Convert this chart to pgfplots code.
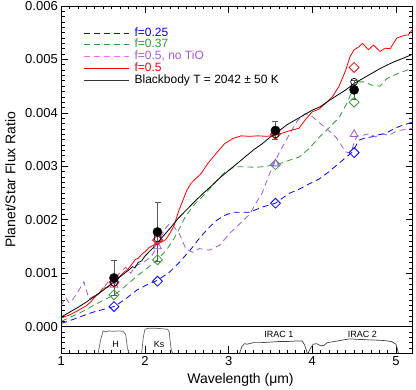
\documentclass[border=0pt]{standalone}
\usepackage{fontspec}
\setmainfont{Liberation Sans}
\usepackage{pgfplots}
\pgfplotsset{compat=1.18}
\definecolor{mygreen}{rgb}{0.2,0.6,0.2}
\definecolor{mypurple}{rgb}{0.62,0.35,0.85}
\definecolor{mymagenta}{rgb}{1,0.4,1}
\definecolor{errgray}{rgb}{0.35,0.35,0.35}

\begin{document}
\begin{tikzpicture}
\useasboundingbox (-61.3pt,-36.7pt) rectangle (354.7pt,353.3pt);
\begin{axis}[
    at={(0pt,0pt)}, anchor=south west,
    scale only axis, width=351.4pt, height=347.3pt,
    xmin=1, xmax=5.2, ymin=-0.0005, ymax=0.006,
    xtick={1,2,3,4,5}, minor x tick num=9,
    ytick={0,0.001,0.002,0.003,0.004,0.005,0.006},
    minor ytick={-0.0004,-0.0003,-0.0002,-0.0001,
      0.0001,0.0002,0.0003,0.0004,0.0005,0.0006,0.0007,0.0008,0.0009,
      0.0011,0.0012,0.0013,0.0014,0.0015,0.0016,0.0017,0.0018,0.0019,
      0.0021,0.0022,0.0023,0.0024,0.0025,0.0026,0.0027,0.0028,0.0029,
      0.0031,0.0032,0.0033,0.0034,0.0035,0.0036,0.0037,0.0038,0.0039,
      0.0041,0.0042,0.0043,0.0044,0.0045,0.0046,0.0047,0.0048,0.0049,
      0.0051,0.0052,0.0053,0.0054,0.0055,0.0056,0.0057,0.0058,0.0059},
    scaled y ticks=false,
    yticklabel style={/pgf/number format/.cd, fixed, fixed zerofill, precision=3},
    /pgf/number format/assume math mode=true,
    tick label style={font=\fontsize{13}{15}\selectfont},
    label style={font=\fontsize{14}{16}\selectfont},
    major tick length=7pt, minor tick length=3.5pt,
    axis line style={line width=0.6pt},
    every tick/.style={black, line width=0.6pt},
    xlabel={Wavelength (μm)},
    ylabel={Planet/Star Flux Ratio},
    xlabel style={at={(axis description cs:0.51,0)}, anchor=center, yshift=-26.5pt},
    ylabel style={at={(axis description cs:-0.145,0.5)}, anchor=center, rotate=0},
    legend image code/.code={\draw[#1] (0pt,0pt) -- (45pt,0pt); \path (50pt,0pt);},
    legend cell align=left,
    legend style={at={(0.062,0.94)}, anchor=north west, draw=none, fill=none,
      inner sep=0pt, row sep=0pt,
      font=\fontsize{12}{13}\selectfont,
      nodes={inner sep=0.4pt, text height=8.6pt, text depth=2.5pt}},
]
% legend entries
\addlegendimage{draw=blue, line width=0.9pt, dash pattern=on 6pt off 4pt}
\addlegendentry{\textcolor{blue}{f=0.25}}
\addlegendimage{draw=mygreen, line width=0.9pt, dash pattern=on 6pt off 4pt}
\addlegendentry{\textcolor{mygreen}{f=0.37}}
\addlegendimage{draw=mymagenta, line width=0.9pt, dash pattern=on 6pt off 4pt}
\addlegendentry{\textcolor{mypurple}{f=0.5, no TiO}}
\addlegendimage{draw=red, line width=0.9pt}
\addlegendentry{\textcolor{red}{f=0.5}}
\addlegendimage{draw=black!80, line width=0.9pt}
\addlegendentry{Blackbody T = 2042 ± 50 K}

% f=0.25
\addplot[blue, line width=0.8pt, dash pattern=on 6pt off 4pt, forget plot] table {
1.00 0.00006
1.10 0.00011
1.22 0.00018
1.38 0.00027
1.50 0.00032
1.64 0.00038
1.77 0.00052
1.90 0.00068
2.02 0.00078
2.14 0.00086
2.28 0.00100
2.41 0.00120
2.55 0.00145
2.65 0.00165
2.75 0.00183
2.85 0.00198
2.95 0.00208
3.05 0.00214
3.15 0.00214
3.25 0.00214
3.41 0.00224
3.56 0.00231
3.72 0.00249
3.84 0.00257
4.00 0.00270
4.08 0.00276
4.20 0.00290
4.36 0.00311
4.48 0.00327
4.56 0.00349
4.63 0.00353
4.71 0.00355
4.79 0.00359
4.87 0.00361
4.95 0.00368
5.03 0.00374
5.20 0.00383
};
% f=0.37
\addplot[mygreen, line width=0.8pt, dash pattern=on 6pt off 4pt, forget plot] table {
1.00 0.00010
1.10 0.00017
1.20 0.00024
1.30 0.00032
1.40 0.00041
1.50 0.00049
1.63 0.00059
1.70 0.00067
1.80 0.00080
1.90 0.00094
2.00 0.00106
2.14 0.00124
2.25 0.00142
2.33 0.00160
2.41 0.00183
2.49 0.00208
2.60 0.00230
2.73 0.00250
2.85 0.00272
2.95 0.00288
3.07 0.00299
3.20 0.00299
3.33 0.00298
3.45 0.00300
3.56 0.00303
3.65 0.00307
3.72 0.00311
3.84 0.00317
3.96 0.00333
4.08 0.00354
4.20 0.00372
4.32 0.00391
4.42 0.00420
4.48 0.00443
4.55 0.00458
4.62 0.00458
4.71 0.00452
4.81 0.00450
4.89 0.00464
5.03 0.00474
5.20 0.00484
};
% f=0.5, no TiO
\addplot[mypurple, line width=0.8pt, dash pattern=on 6pt off 4pt, forget plot] table {
1.00 0.00039
1.05 0.00055
1.09 0.00045
1.13 0.00049
1.21 0.00068
1.27 0.00084
1.33 0.00052
1.40 0.00058
1.45 0.00061
1.52 0.00075
1.57 0.00086
1.63 0.00080
1.69 0.00099
1.77 0.00111
1.83 0.00100
1.89 0.00114
1.95 0.00118
2.01 0.00123
2.08 0.00132
2.14 0.00148
2.20 0.00170
2.25 0.00185
2.29 0.00192
2.33 0.00190
2.41 0.00174
2.49 0.00145
2.57 0.00139
2.65 0.00146
2.77 0.00143
2.89 0.00152
3.01 0.00174
3.13 0.00192
3.25 0.00210
3.33 0.00232
3.40 0.00250
3.50 0.00290
3.60 0.00324
3.72 0.00358
3.82 0.00385
3.92 0.00399
4.00 0.00393
4.08 0.00382
4.16 0.00372
4.28 0.00355
4.40 0.00327
4.46 0.00324
4.50 0.00345
4.54 0.00358
4.60 0.00358
4.68 0.00361
4.75 0.00355
4.83 0.00361
4.91 0.00358
5.03 0.00367
5.20 0.00371
};
% f=0.5
\addplot[red, line width=0.8pt, forget plot] table {
1.00 0.00016
1.10 0.00022
1.20 0.00030
1.30 0.00039
1.35 0.00046
1.40 0.00055
1.45 0.00062
1.50 0.00072
1.55 0.00073
1.60 0.00080
1.65 0.00083
1.70 0.00094
1.75 0.00102
1.80 0.00108
1.85 0.00118
1.88 0.00125
1.92 0.00128
1.96 0.00135
2.00 0.00140
2.05 0.00148
2.10 0.00152
2.15 0.00160
2.20 0.00158
2.25 0.00163
2.30 0.00175
2.35 0.00190
2.40 0.00215
2.45 0.00235
2.50 0.00255
2.55 0.00268
2.60 0.00276
2.67 0.00286
2.75 0.00305
2.85 0.00324
2.95 0.00342
3.05 0.00352
3.15 0.00357
3.25 0.00356
3.35 0.00357
3.45 0.00356
3.56 0.00358
3.68 0.00364
3.76 0.00368
3.84 0.00371
3.92 0.00388
4.00 0.00402
4.08 0.00407
4.16 0.00418
4.24 0.00430
4.32 0.00450
4.40 0.00480
4.45 0.00505
4.50 0.00518
4.56 0.00524
4.60 0.00530
4.67 0.00518
4.73 0.00527
4.81 0.00515
4.87 0.00521
4.93 0.00520
5.01 0.00540
5.10 0.00545
5.15 0.00546
5.20 0.00557
};
% blackbody
\addplot[black, line width=0.8pt, forget plot] table {
1.00 0.00018
1.10 0.00027
1.20 0.00036
1.30 0.00046
1.40 0.00057
1.50 0.00068
1.60 0.00080
1.70 0.00093
1.80 0.00105
1.85 0.00112
1.88 0.00110
1.92 0.00120
1.96 0.00123
2.00 0.00132
2.10 0.00148
2.20 0.00166
2.30 0.00184
2.40 0.00203
2.50 0.00219
2.60 0.00235
2.70 0.00250
2.80 0.00264
2.90 0.00279
3.00 0.00292
3.10 0.00305
3.20 0.00318
3.30 0.00331
3.40 0.00342
3.50 0.00355
3.60 0.00366
3.70 0.00378
3.80 0.00387
3.90 0.00396
4.00 0.00405
4.10 0.00412
4.20 0.00423
4.30 0.00433
4.40 0.00443
4.50 0.00455
4.60 0.00464
4.70 0.00473
4.80 0.00482
4.90 0.00490
5.00 0.00497
5.10 0.00503
5.20 0.00510
};

% filter panel
\addplot[black, line width=0.6pt, forget plot] coordinates {(1,0) (5.2,0)};
\addplot[black!60, line width=0.7pt, forget plot] table {
1.44 -0.00050
1.47 -0.00025
1.50 -0.00008
1.53 -0.00010
1.57 -0.00008
1.62 -0.00009
1.68 -0.00008
1.74 -0.00009
1.77 -0.00015
1.79 -0.00040
1.81 -0.00050
};
\addplot[black!60, line width=0.7pt, forget plot] table {
1.96 -0.00050
1.98 -0.00020
2.00 -0.00005
2.05 -0.00003
2.12 -0.00003
2.20 -0.00004
2.27 -0.00005
2.29 -0.00010
2.31 -0.00040
2.33 -0.00050
};
\addplot[black!75, line width=0.7pt, forget plot] table {
3.13 -0.00050
3.16 -0.00037
3.19 -0.00032
3.22 -0.00033
3.30 -0.00030
3.40 -0.00030
3.50 -0.00029
3.60 -0.00028
3.70 -0.00028
3.80 -0.00027
3.88 -0.00027
3.91 -0.00035
3.94 -0.00050
};
\addplot[black!75, line width=0.7pt, forget plot] table {
3.95 -0.00050
3.98 -0.00040
4.01 -0.00033
4.05 -0.00032
4.10 -0.00036
4.14 -0.00035
4.18 -0.00030
4.30 -0.00027
4.44 -0.00023
4.55 -0.00024
4.70 -0.00025
4.85 -0.00026
4.95 -0.00028
5.00 -0.00033
5.03 -0.00050
};
\node[font=\fontsize{9}{10}\selectfont] at (axis cs:1.65,-0.00034) {H};
\node[font=\fontsize{9}{10}\selectfont] at (axis cs:2.17,-0.00034) {Ks};
\node[font=\fontsize{9}{10}\selectfont] at (axis cs:3.60,-0.00015) {IRAC 1};
\node[font=\fontsize{9}{10}\selectfont] at (axis cs:4.60,-0.00015) {IRAC 2};

% band-integrated models
\addplot[only marks, mark=square, mark size=3.5pt, mark options={rotate=45, blue, line width=0.8pt}, forget plot] table {
1.63 0.000375
2.15 0.00085
3.56 0.00231
4.50 0.003256
};
\addplot[only marks, mark=square, mark size=3.5pt, mark options={rotate=45, mygreen, line width=0.8pt}, forget plot] table {
1.63 0.000594
2.15 0.00125
3.56 0.00303
4.50 0.00420
};
\addplot[only marks, mark=triangle, mark size=4.5pt, mark options={mypurple, line width=0.8pt}, forget plot] table {
1.63 0.00078
2.15 0.00150
3.56 0.00305
4.50 0.00360
};
\addplot[only marks, mark=square, mark size=3.5pt, mark options={rotate=45, red, line width=0.8pt}, forget plot] table {
1.63 0.00083
2.15 0.00162
3.56 0.00360
4.50 0.00485
};
\addplot[only marks, mark=o, mark size=3.5pt, mark options={black, line width=0.7pt}, forget plot] table {
1.63 0.00082
2.15 0.00165
3.56 0.00360
4.50 0.00458
};
% measured eclipse depths
\addplot[only marks, mark=*, mark size=4.6pt, mark options={black}, forget plot,
  error bars/.cd, y dir=both, y explicit,
  error bar style={errgray, line width=0.9pt},
  error mark options={rotate=90, mark size=3pt, errgray, line width=0.9pt}]
  table[x index=0, y index=1, y error index=2] {
1.63 0.00091 0.00033
2.15 0.00177 0.00055
3.56 0.00367 0.00016
4.50 0.00443 0.00017
};
\end{axis}
\end{tikzpicture}
\end{document}
